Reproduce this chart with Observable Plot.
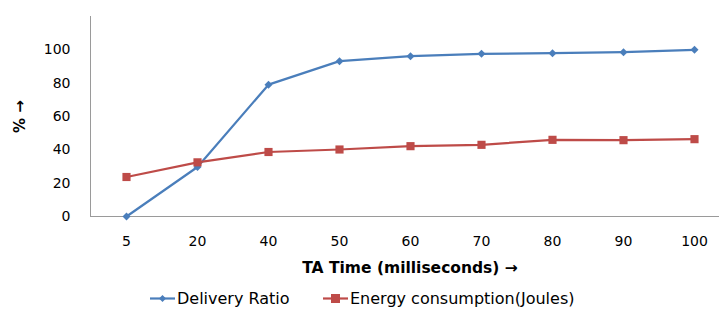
<!DOCTYPE html>
<html>
<head>
<meta charset="utf-8">
<script src="https://cdn.jsdelivr.net/npm/d3@7"></script>
<script src="https://cdn.jsdelivr.net/npm/@observablehq/plot@0.6"></script>
<style>
  html, body { margin: 0; padding: 0; background: #fff; overflow: hidden; }
  #chart svg { display: block; overflow: visible; }
  g[aria-label="y-axis label"] text { font-weight: bold; font-size: 15px; }
  g[aria-label="x-axis label"] text { font-weight: bold; font-size: 15.5px; }
  #legend { position: relative; height: 26px; font-family: "DejaVu Sans", sans-serif; font-size: 16px; color: #000; }
  .item { position: absolute; top: 6px; display: flex; align-items: center; height: 18px; }
</style>
</head>
<body>
<div id="chart"></div>
<div id="legend"></div>
<script>
const categories = ["5", "20", "40", "50", "60", "70", "80", "90", "100"];
const deliveryRatio = [0, 29.7, 79.1, 93.2, 96.2, 97.6, 98, 98.6, 100];
const energyConsumption = [23.7, 32.5, 38.7, 40.2, 42.2, 43, 46, 45.8, 46.4];
const seriesNames = ["Delivery Ratio", "Energy consumption(Joules)"];
const yTicks = [0, 20, 40, 60, 80, 100];
const colors = ["#4A7EBB", "#BE4B48"];

const rows = [];
categories.forEach((c, i) => {
  rows.push({x: c, y: deliveryRatio[i], s: seriesNames[0]});
  rows.push({x: c, y: energyConsumption[i], s: seriesNames[1]});
});
const dr = rows.filter(d => d.s === seriesNames[0]);
const ec = rows.filter(d => d.s === seriesNames[1]);

const chart = Plot.plot({
  width: 719,
  height: 283,
  marginLeft: 90,
  marginRight: -10,
  marginTop: 16,
  marginBottom: 67,
  style: {fontFamily: "DejaVu Sans, sans-serif", fontSize: "14px", color: "#000", background: "#fff"},
  x: {type: "point", domain: categories, padding: 0.5},
  y: {domain: [0, 120]},
  marks: [
    Plot.frame({anchor: "left", stroke: "#9a9a9a"}),
    Plot.ruleY([0], {stroke: "#9a9a9a"}),
    Plot.axisY({ticks: yTicks, tickSize: 0, tickPadding: 20, label: "% →", labelAnchor: "center", labelOffset: 76}),
    Plot.axisX({tickSize: 0, tickPadding: 20, label: "TA Time (milliseconds) →", labelAnchor: "center", labelOffset: 56}),
    Plot.line(dr, {x: "x", y: "y", stroke: colors[0], strokeWidth: 2.2}),
    Plot.line(ec, {x: "x", y: "y", stroke: colors[1], strokeWidth: 2.2}),
    Plot.dot(dr, {x: "x", y: "y", symbol: "diamond2", r: 3.6, fill: colors[0], stroke: "none"}),
    Plot.dot(ec, {x: "x", y: "y", symbol: "square", r: 4.6, fill: colors[1], stroke: "none"})
  ]
});
document.getElementById("chart").appendChild(chart);

const legend = document.getElementById("legend");
const positions = [150, 323];
const symbols = ["diamond", "square"];
seriesNames.forEach((name, i) => {
  const item = document.createElement("div");
  item.className = "item";
  item.style.left = positions[i] + "px";
  const marker = symbols[i] === "diamond"
    ? `<polygon points="12.5,5 16,8.5 12.5,12 9,8.5" fill="${colors[i]}"/>`
    : `<rect x="8" y="4" width="9" height="9" fill="${colors[i]}"/>`;
  item.innerHTML = `<svg width="26" height="17" style="display:block"><line x1="0" x2="25" y1="8.5" y2="8.5" stroke="${colors[i]}" stroke-width="2.2"/>${marker}</svg><span style="margin-left:1px">${name}</span>`;
  legend.appendChild(item);
});
</script>
</body>
</html>
